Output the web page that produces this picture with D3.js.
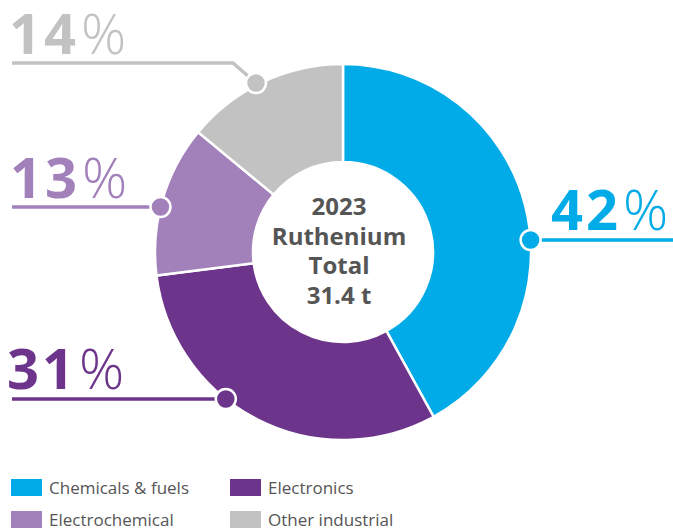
<!DOCTYPE html>
<html><head><meta charset="utf-8">
<script src="https://cdn.jsdelivr.net/npm/d3@7"></script>
<style>body{margin:0;background:#fff}svg{display:block}</style>
</head><body>
<svg id="c" width="673" height="528"></svg>
<script>
const categories = ["Chemicals & fuels", "Electronics", "Electrochemical", "Other industrial"];
const values = [42, 31, 13, 14];
const colors = ["#00abe7", "#6c348b", "#a281bb", "#c2c2c2"];
const centerLines = ["2023", "Ruthenium", "Total", "31.4 t"];
const legendOrder = [0, 1, 2, 3];

const svg = d3.select("#c");
const cx = 343, cy = 252, rOuter = 188, rInner = 90;
const pie = d3.pie().sort(null).value(d => d)(values);
const arc = d3.arc().innerRadius(rInner).outerRadius(rOuter);
const g = svg.append("g").attr("transform", `translate(${cx},${cy})`);
g.selectAll("path").data(pie).join("path")
  .attr("d", arc).attr("fill", (d,i) => colors[i])
  .attr("stroke", "#fff").attr("stroke-width", 2.5);

const font = "'Open Sans', sans-serif";
// center text
const ct = g.append("text").attr("text-anchor", "middle")
  .attr("font-family", font).attr("font-weight", 700)
  .attr("font-size", 24).attr("fill", "#555");
centerLines.forEach((t,i) => ct.append("tspan").attr("x", -4).attr("y", -37 + i*29.5).text(t));

const labels = [
  {i:0, lineTo: 673, y: 240, tx: 551, ty: 230},
  {i:1, lineTo: 12, y: 399, tx: 7, ty: 389},
  {i:2, lineTo: 12, y: 207, tx: 10, ty: 198},
  {i:3, lineTo: 12, y: 63, tx: 9, ty: 54}
];
labels.forEach(L => {
  const col = colors[L.i];
  let px, py;
  if (L.i === 3) { px = 256; py = 83; }
  else {
    py = L.y;
    const dy = py - cy;
    const dx = Math.sqrt(rOuter*rOuter - dy*dy);
    px = L.lineTo > cx ? cx + dx : cx - dx;
  }
  const path = L.i === 3 ? `M${L.lineTo},${L.y}H233L${px},${py}` : `M${L.lineTo},${L.y}H${px}`;
  svg.append("path").attr("d", path).attr("fill", "none").attr("stroke", col).attr("stroke-width", 3.5);
  svg.append("circle").attr("cx", px).attr("cy", py).attr("r", 10)
    .attr("fill", col).attr("stroke", "#fff").attr("stroke-width", 2.5);
  const t = svg.append("text").attr("x", L.tx).attr("y", L.ty)
    .attr("font-family", font).attr("font-size", 56).attr("fill", col);
  t.append("tspan").attr("font-weight", 700).attr("letter-spacing", 3).text(values[L.i]);
  t.append("tspan").attr("font-weight", 300).attr("dx", 2).text("%");
});

// legend
const leg = svg.append("g");
legendOrder.forEach((i, k) => {
  const x = 11 + (k % 2) * 219, y = 479 + Math.floor(k/2) * 32;
  leg.append("rect").attr("x", x).attr("y", y).attr("width", 31).attr("height", 17).attr("fill", colors[i]);
  leg.append("text").attr("x", x + 38).attr("y", y + 15).attr("font-family", font)
    .attr("font-size", 17).attr("fill", "#555").text(categories[i]);
});
</script>
</body></html>
